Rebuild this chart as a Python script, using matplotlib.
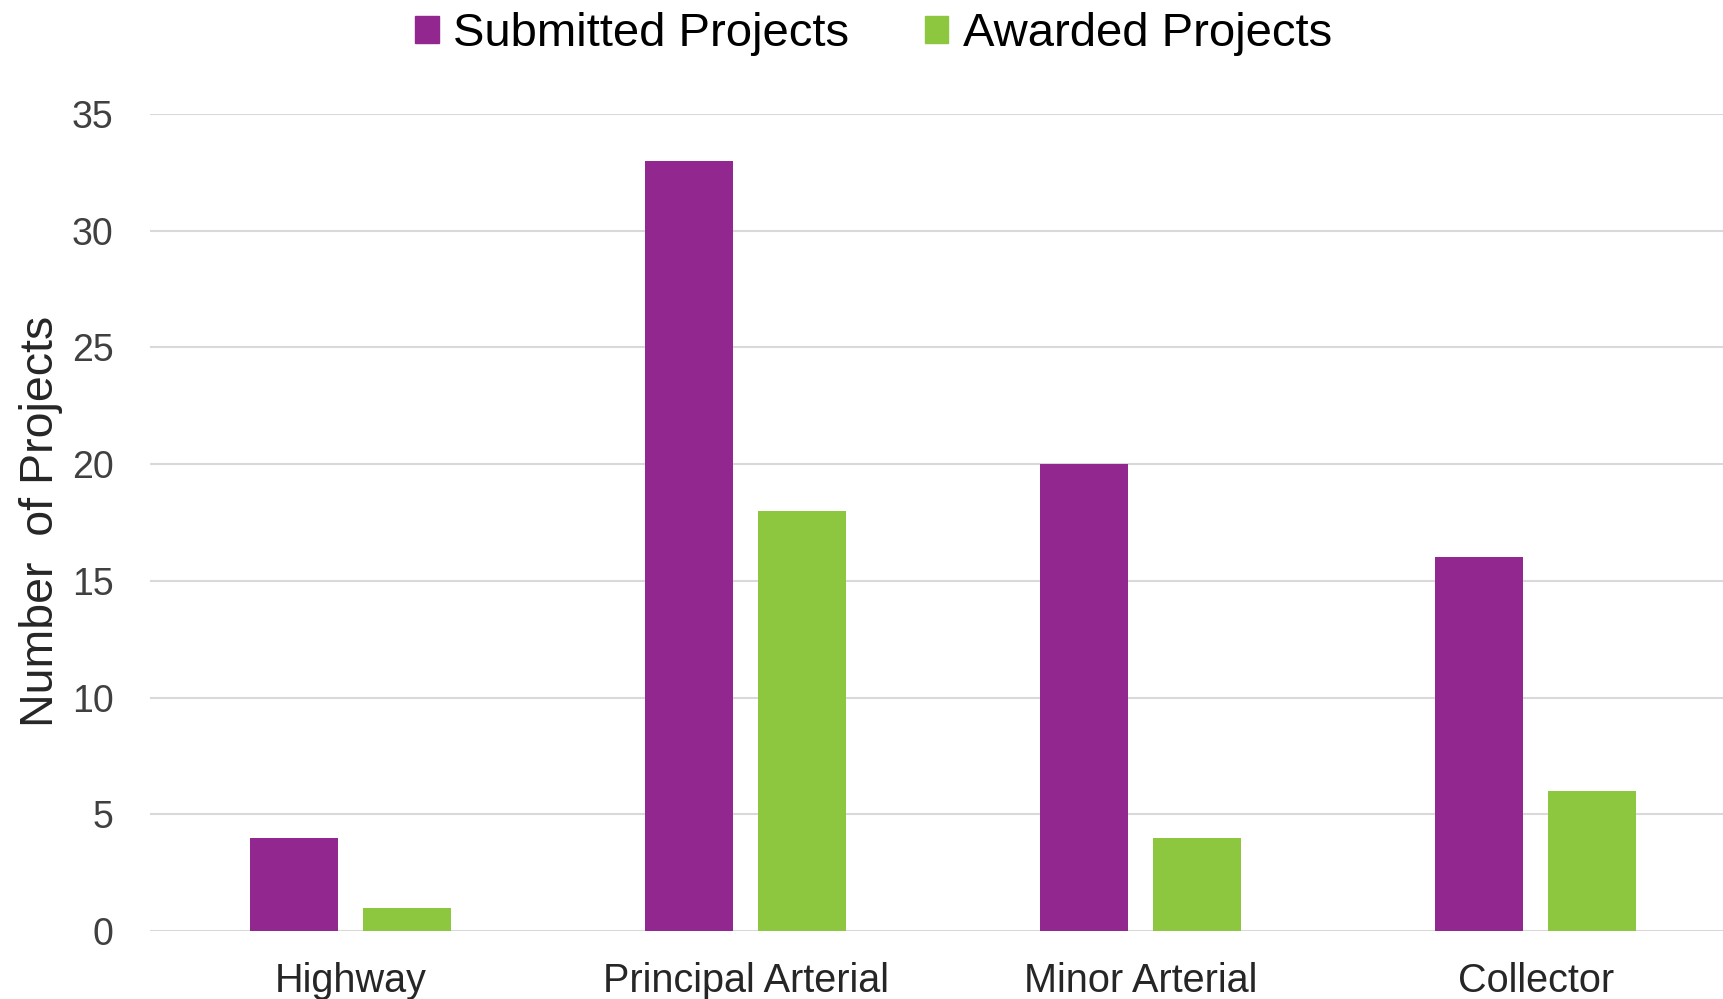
import matplotlib
matplotlib.use("Agg")
import matplotlib.pyplot as plt
import numpy as np
from matplotlib.patches import Patch

categories = ["Highway", "Principal Arterial", "Minor Arterial", "Collector"]
submitted = [4, 33, 20, 16]
awarded = [1, 18, 4, 6]
series_names = ["Submitted Projects", "Awarded Projects"]
colors = ["#92278F", "#8DC63F"]
yticks = [0, 5, 10, 15, 20, 25, 30, 35]

plt.rcParams['font.family'] = ['Liberation Sans', 'DejaVu Sans']

fig = plt.figure(figsize=(17.23, 9.99), dpi=100)
ax = fig.add_axes([0.087, 0.068, 0.913, 0.818])

x = np.arange(len(categories))
w = 0.223
off = 0.143
ax.bar(x - off, submitted, width=w, color=colors[0], zorder=3)
ax.bar(x + off, awarded, width=w, color=colors[1], zorder=3)

ax.set_xlim(-0.509, 3.474)
ax.set_ylim(0, 35)
ax.set_yticks(yticks)
ax.set_xticks(x)
ax.set_xticklabels(categories, fontsize=28.5, color="#262626")
ax.tick_params(axis='y', labelsize=27, labelcolor="#404040", length=0, pad=26)
ax.tick_params(axis='x', length=0, pad=22)
ax.grid(axis='y', color="#d9d9d9", linewidth=1.5, zorder=0)
for s in ax.spines.values():
    s.set_visible(False)

fig.text(0.024, 0.478, "Number  of Projects", rotation=90, va='center', ha='center',
         fontsize=33.5, color="#262626")

handles = [Patch(color=c) for c in colors]
fig.legend(handles, series_names, loc='center', bbox_to_anchor=(0.507, 0.966),
           ncol=2, frameon=False, fontsize=34, handlelength=0.5, handleheight=0.5,
           handletextpad=0.3, columnspacing=1.6)

fig.savefig("out.png", dpi=100)
